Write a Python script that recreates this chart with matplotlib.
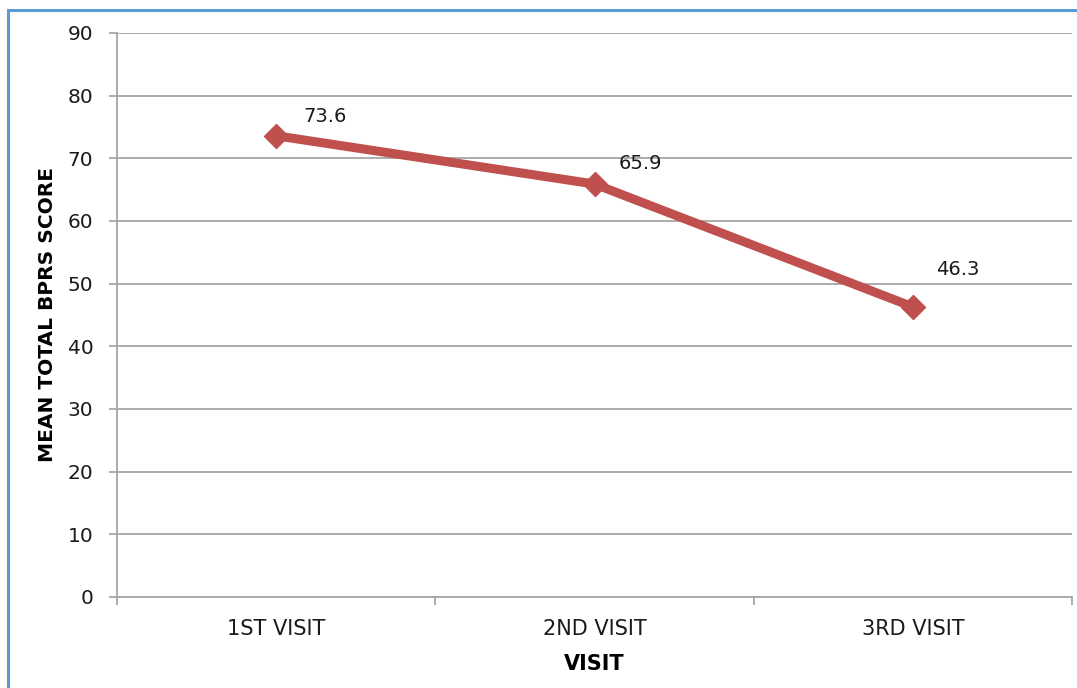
import matplotlib
matplotlib.use("Agg")
import matplotlib.pyplot as plt
from matplotlib.patches import Rectangle

categories = ["1ST VISIT", "2ND VISIT", "3RD VISIT"]
values = [73.6, 65.9, 46.3]
yticks = [0, 10, 20, 30, 40, 50, 60, 70, 80, 90]

plt.rcParams['font.family'] = ['DejaVu Sans']

fig = plt.figure(figsize=(10.77, 6.88), dpi=100)
ax = fig.add_axes([117/1077, 1 - 597/688, (1072 - 117)/1077, (597 - 33)/688])

grid_c = '#A6A6A6'
line_c = '#C0504D'
text_c = '#1A1A1A'

x = list(range(len(categories)))
ax.plot(x, values, color=line_c, lw=6.5, marker='D', markersize=12.5,
        markerfacecolor=line_c, markeredgecolor=line_c, solid_capstyle='round', zorder=3)

label_offsets = [(35, 14), (33, 15), (32, 27)]
for xi, v, off in zip(x, values, label_offsets):
    ax.annotate(f"{v:.1f}", (xi, v), xytext=off, textcoords='offset points',
                ha='center', va='center', fontsize=14, color=text_c)

ax.set_xlim(-0.5, len(categories) - 0.5)
ax.set_ylim(0, 90)
ax.set_yticks(yticks)
ax.set_yticklabels([str(t) for t in yticks], fontsize=14.5, color=text_c)
ax.yaxis.grid(True, color=grid_c, lw=1.3)
ax.set_axisbelow(True)

ax.set_xticks(x)
ax.set_xticklabels(categories, fontsize=15, color=text_c)
ax.tick_params(axis='x', length=0, pad=16)
ax.set_xticks([i - 0.5 for i in range(len(categories) + 1)], minor=True)
ax.tick_params(axis='x', which='minor', length=6, color=grid_c, width=1.3)
ax.tick_params(axis='y', length=6, color=grid_c, width=1.3, pad=11)

for s in ['top', 'right']:
    ax.spines[s].set_visible(False)
for s in ['left', 'bottom']:
    ax.spines[s].set_color(grid_c)
    ax.spines[s].set_linewidth(1.3)

ax.set_ylabel("MEAN TOTAL BPRS SCORE", fontsize=14.5, fontweight='bold', labelpad=8)
ax.set_xlabel("VISIT", fontsize=15, fontweight='bold', labelpad=11)

# outer chart border (partially cropped)
fig.patches.append(Rectangle((8/1077, -0.1), 1.2, 1 - 10/688 + 0.1, transform=fig.transFigure,
                             fill=False, edgecolor='#5B9BD5', lw=2.2, figure=fig))

fig.savefig("out.png", dpi=100)
